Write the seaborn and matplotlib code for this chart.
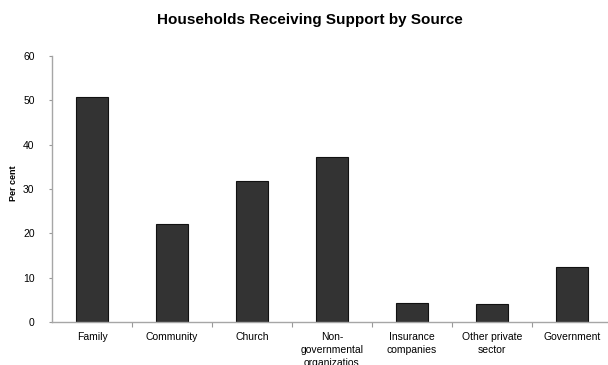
import matplotlib
matplotlib.use("Agg")
import matplotlib.pyplot as plt
import seaborn as sns
import pandas as pd
from matplotlib.ticker import FixedLocator

# Share of households receiving support, by source (%)
sources = ["Family", "Community", "Church", "Non-\ngovernmental\norganizatios",
           "Insurance\ncompanies", "Other private\nsector", "Government"]
percent = [50.7, 22.2, 31.8, 37.2, 4.3, 4.0, 12.4]
y_ticks = [0, 10, 20, 30, 40, 50, 60]

sns.set_theme(style="white")
plt.rcParams["font.family"] = ["Liberation Sans", "DejaVu Sans"]
plt.rcParams["text.color"] = "#000000"
plt.rcParams["axes.labelcolor"] = "#000000"

df = pd.DataFrame({"source": sources, "percent": percent})

fig = plt.figure(figsize=(6.08, 3.65), dpi=100)
ax = fig.add_axes([52 / 608, 43 / 365, 560 / 608, 266 / 365])

sns.barplot(data=df, x="source", y="percent", color="#333333", saturation=1,
            width=0.41, edgecolor="#111111", linewidth=0.8, ax=ax)

ax.set_xlim(-0.5, len(sources) - 0.5)
ax.set_ylim(0, 60)
ax.set_yticks(y_ticks)
ax.set_yticklabels([str(v) for v in y_ticks], fontsize=7.5, color="#000000")
ax.set_xticks(range(len(sources)))
ax.set_xticklabels(sources, fontsize=7.5, color="#000000", linespacing=1.38)

# category separators on the x axis
ax.xaxis.set_minor_locator(FixedLocator([i + 0.5 for i in range(len(sources) - 1)]))
ax.tick_params(axis="x", which="major", length=0, pad=7)
ax.tick_params(axis="x", which="minor", length=3.5, width=0.8, color="#999999", bottom=True)
ax.tick_params(axis="y", which="major", length=2.5, width=0.8, color="#999999", pad=10, left=True)

for side in ("top", "right"):
    ax.spines[side].set_visible(False)
for side in ("left", "bottom"):
    ax.spines[side].set_color("#a6a6a6")
    ax.spines[side].set_linewidth(1.0)

ax.set_xlabel("")
ax.set_ylabel("Per cent", fontsize=6.5, fontweight="bold", color="#000000")
ax.yaxis.set_label_coords(-34 / 560, 0.52)

fig.text(310 / 608, 1 - 20 / 365, "Households Receiving Support by Source",
         ha="center", va="center", fontsize=11, fontweight="bold", color="#000000")

fig.savefig("out.png", dpi=100)
